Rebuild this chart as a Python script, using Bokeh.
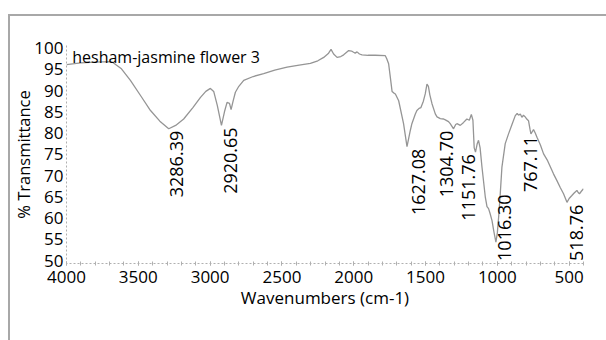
import math
from bokeh.plotting import figure
from bokeh.models import Range1d, Label, FixedTicker, ColumnDataSource, InlineStyleSheet
from bokeh.core.properties import value
from bokeh.embed import file_html
from bokeh.resources import INLINE

# ---- data ----
wavenumber = [4000, 3900, 3800, 3700, 3682, 3620, 3555, 3480, 3415, 3350, 3288, 3240, 3184, 3120,
              3067, 3030, 2998, 2975, 2950, 2921, 2900, 2882, 2865, 2854, 2840, 2824, 2800, 2766,
              2700, 2627, 2550, 2464, 2380, 2302, 2250, 2209, 2175, 2158, 2140, 2116, 2090, 2070,
              2035, 2015, 2001, 1990, 1977, 1960, 1942, 1900, 1850, 1780, 1770, 1757, 1745, 1733,
              1720, 1710, 1687, 1653, 1629, 1606, 1595, 1571, 1560, 1545, 1532, 1515, 1502, 1490,
              1480, 1470, 1455, 1432, 1420, 1397, 1374, 1362, 1340, 1328, 1305, 1290, 1281, 1258,
              1235, 1212, 1195, 1181, 1170, 1161, 1152, 1140, 1131, 1120, 1107, 1084, 1072, 1061,
              1050, 1037, 1025, 1010, 1000, 991, 980, 968, 945, 922, 898, 875, 862, 852, 840, 829,
              818, 806, 795, 783, 772, 766, 757, 748, 736, 724, 700, 678, 650, 609, 585, 562, 539,
              515, 500, 481, 465, 446, 437, 428, 415, 400]
transmittance = [96.1, 96.5, 96.7, 96.8, 96.7, 95.2, 92.4, 88.6, 85.3, 82.8, 81.0, 81.8, 83.3, 86.0,
                 88.4, 89.8, 90.5, 89.8, 86.5, 81.8, 85.0, 87.2, 87.0, 85.5, 87.5, 89.6, 91.0, 92.4,
                 93.3, 94.0, 94.8, 95.5, 96.0, 96.4, 97.0, 97.8, 98.8, 99.7, 98.6, 97.8, 98.0, 98.4,
                 99.4, 99.3, 99.0, 98.8, 99.1, 98.6, 98.4, 98.3, 98.3, 98.2, 97.5, 96.3, 93.1, 89.8,
                 89.4, 89.2, 87.6, 82.2, 76.8, 80.6, 82.2, 84.5, 85.3, 85.8, 86.0, 87.5, 89.2, 91.5,
                 91.0, 89.0, 86.9, 84.5, 83.8, 83.4, 83.3, 83.1, 82.7, 82.2, 81.0, 82.0, 82.2, 81.8,
                 82.5, 83.3, 83.0, 84.4, 83.0, 76.5, 75.5, 77.5, 78.3, 76.5, 72.0, 65.0, 62.7, 62.2,
                 61.0, 59.4, 57.0, 54.3, 56.5, 60.2, 65.5, 72.0, 77.5, 79.8, 82.0, 84.1, 84.6, 84.2,
                 84.5, 83.7, 84.2, 83.8, 83.3, 82.9, 80.8, 79.8, 80.3, 80.8, 80.0, 79.0, 77.2, 75.1,
                 73.5, 70.4, 68.8, 67.2, 65.7, 63.7, 64.6, 65.3, 65.9, 66.5, 66.0, 65.7, 66.3, 66.9]

peak_wavenumber = [3286.39, 2920.65, 1627.08, 1304.70, 1151.76, 1016.30, 767.11, 518.76]
peak_transmittance = [81.0, 81.8, 76.8, 81.0, 75.5, 54.3, 79.8, 63.7]
peak_labels = ["3286.39", "2920.65", "1627.08", "1304.70", "1151.76", "1016.30", "767.11", "518.76"]

x_ticks = [4000, 3500, 3000, 2500, 2000, 1500, 1000, 500]
y_ticks = [50, 55, 60, 65, 70, 75, 80, 85, 90, 95, 100]

title_text = "hesham-jasmine flower 3"
x_title = "Wavenumbers (cm-1)"
y_title = "% Transmittance"

# ---- styling ----
FONT = "Open Sans"
TXT = "#000000"
CURVE = "#959595"
AXIS = "#b0b0b0"

Y0, Y1 = 49.3, 100.6
p = figure(width=606, height=340, output_backend="svg", toolbar_location=None,
           x_range=Range1d(4000, 400), y_range=Range1d(Y0, Y1),
           min_border_left=66, min_border_right=23, min_border_top=45, min_border_bottom=77)
p.outline_line_color = None
p.grid.grid_line_color = None
p.background_fill_color = "white"
p.border_fill_color = "white"

p.line(wavenumber, transmittance, line_color=CURVE, line_width=1.3)

# axes
p.xaxis.ticker = FixedTicker(ticks=x_ticks, minor_ticks=list(range(400, 4001, 100)))
p.yaxis.ticker = FixedTicker(ticks=y_ticks, minor_ticks=[])
for ax in (p.xaxis[0], p.yaxis[0]):
    ax.axis_line_color = AXIS
    ax.axis_line_dash = "2 2"
    ax.axis_line_width = 1
    ax.major_tick_line_color = AXIS
    ax.minor_tick_line_color = AXIS
    ax.major_label_text_font = FONT
    ax.major_label_text_font_size = "17px"
    ax.major_label_text_color = TXT
    ax.axis_label_text_font = FONT
    ax.axis_label_text_font_size = "17px"
    ax.axis_label_text_font_style = "normal"
    ax.axis_label_text_color = TXT
p.xaxis.major_tick_in = 2
p.xaxis.major_tick_out = 2
p.xaxis.minor_tick_in = 2
p.xaxis.minor_tick_out = 2
p.xaxis.major_label_standoff = 5
p.xaxis.axis_label = x_title
p.xaxis.axis_label_standoff = 0
p.yaxis.major_tick_in = 0
p.yaxis.major_tick_out = 0
p.yaxis.major_label_standoff = 3
p.yaxis.axis_label = y_title
p.yaxis.axis_label_text_font_size = "16.5px"
p.yaxis.axis_label_standoff = -4

# peak labels
label_shift = [8, 9, 11, -7, -7, 10, 0, 10]  # horizontal nudge in px
label_len = 17.0  # approx. length of a rotated label in data units
src_top = dict(x=[], y=[], t=[], dx=[])
src_bot = dict(x=[], y=[], t=[], dx=[])
for w, t, s, dx in zip(peak_wavenumber, peak_transmittance, peak_labels, label_shift):
    if t - label_len < Y0 + 0.3:
        src_bot["x"].append(w); src_bot["y"].append(Y0 + 0.6); src_bot["t"].append(s); src_bot["dx"].append(dx)
    else:
        src_top["x"].append(w); src_top["y"].append(t); src_top["t"].append(s); src_top["dx"].append(dx)
p.text(x="x", y="y", text="t", x_offset="dx", y_offset=2, source=ColumnDataSource(src_top),
       angle=math.pi / 2, text_align="right", text_baseline="middle",
       text_font=value(FONT), text_font_size="18px", text_color=TXT)
p.text(x="x", y="y", text="t", x_offset="dx", source=ColumnDataSource(src_bot),
       angle=math.pi / 2, text_align="left", text_baseline="middle",
       text_font=value(FONT), text_font_size="18px", text_color=TXT)

# title inside plot
p.add_layout(Label(x=3960, y=97.8, text=title_text, text_font=FONT, text_font_size="16px",
                   text_color=TXT, text_baseline="alphabetic"))

# outer frame (left and top edges visible in the window)
p.stylesheets = [InlineStyleSheet(css=(
    ":host::after{content:'';position:absolute;left:8px;top:14px;width:900px;height:600px;"
    "border-left:2px solid #a8a8a8;border-top:2px solid #a8a8a8;box-sizing:border-box;"
    "pointer-events:none;}"
    ":host{position:relative;overflow:hidden;}"
))]

open("out.html", "w").write(file_html(p, INLINE))
